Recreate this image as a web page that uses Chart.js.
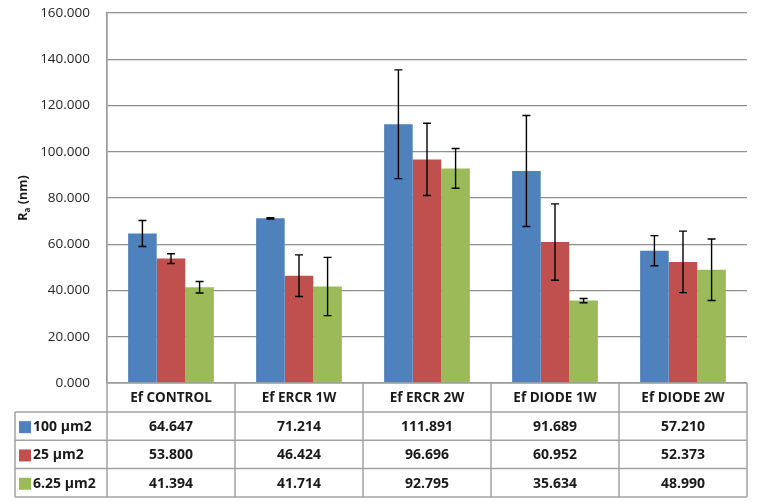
<!DOCTYPE html>
<html>
<head>
<meta charset="utf-8">
<script src="https://cdn.jsdelivr.net/npm/chart.js@4/dist/chart.umd.min.js"></script>
<style>
html,body{margin:0;padding:0;background:#fff;}
#wrap{width:760px;height:502px;position:relative;}
</style>
</head>
<body>
<div id="wrap"><canvas id="c" width="760" height="502"></canvas></div>
<script>
const categories = ["Ef CONTROL", "Ef ERCR 1W", "Ef ERCR 2W", "Ef DIODE 1W", "Ef DIODE 2W"];
const seriesNames = ["100 \u00b5m2", "25 \u00b5m2", "6.25 \u00b5m2"];
const values100 = [64.647, 71.214, 111.891, 91.689, 57.210];
const values25 = [53.800, 46.424, 96.696, 60.952, 52.373];
const values625 = [41.394, 41.714, 92.795, 35.634, 48.990];
const errors100 = [5.6, 0.3, 23.5, 24.0, 6.5];
const errors25 = [2.1, 9.0, 15.6, 16.5, 13.3];
const errors625 = [2.5, 12.6, 8.6, 0.9, 13.3];
const yTickMin = 0, yTickMax = 160, yTickStep = 20;

const colors = ["#4F81BD", "#C0504D", "#9BBB59"];
const allValues = [values100, values25, values625];
const allErrors = [errors100, errors25, errors625];

const FONT = '"Open Sans", "Liberation Sans", sans-serif';

const errorBarPlugin = {
  id: 'errorBars',
  afterDatasetsDraw(chart) {
    const ctx = chart.ctx;
    const y = chart.scales.y;
    ctx.save();
    ctx.strokeStyle = '#000';
    ctx.lineWidth = 1.4;
    chart.data.datasets.forEach((ds, di) => {
      const meta = chart.getDatasetMeta(di);
      meta.data.forEach((bar, i) => {
        const v = ds.data[i], e = allErrors[di][i];
        const yt = y.getPixelForValue(v + e), yb = y.getPixelForValue(v - e);
        const x = bar.x, cap = 4;
        ctx.beginPath();
        ctx.moveTo(x, yt); ctx.lineTo(x, yb);
        ctx.moveTo(x - cap, yt); ctx.lineTo(x + cap, yt);
        ctx.moveTo(x - cap, yb); ctx.lineTo(x + cap, yb);
        ctx.stroke();
      });
    });
    ctx.restore();
  }
};

const tablePlugin = {
  id: 'dataTable',
  afterDraw(chart) {
    const ctx = chart.ctx;
    const xs = chart.scales.x;
    const area = chart.chartArea;
    const n = categories.length;
    const colW = (area.right - area.left) / n;
    const top = area.bottom;
    const headerH = 29;
    const rowH = 28.3;
    const tableLeft = 15;
    const bottom = top + headerH + rowH * 3;
    ctx.save();
    ctx.strokeStyle = '#a3a3a3';
    ctx.lineWidth = 1.5;
    ctx.beginPath();
    for (let i = 0; i <= n; i++) {
      const x = area.left + i * colW;
      ctx.moveTo(x, i === 0 ? area.top : top);
      ctx.lineTo(x, bottom);
    }
    ctx.moveTo(tableLeft, top + headerH);
    ctx.lineTo(tableLeft, bottom);
    ctx.moveTo(area.left, top); ctx.lineTo(area.right, top);
    for (let r = 0; r <= 3; r++) {
      const yy = top + headerH + r * rowH;
      ctx.moveTo(tableLeft, yy); ctx.lineTo(area.right, yy);
    }
    ctx.stroke();

    ctx.fillStyle = '#1a1a1a';
    ctx.textAlign = 'center';
    ctx.textBaseline = 'middle';
    ctx.font = 'bold 13.5px ' + FONT;
    categories.forEach((c, i) => {
      ctx.fillText(c, xs.getPixelForTick(i), top + headerH / 2 + 1);
    });
    for (let r = 0; r < 3; r++) {
      const yy = top + headerH + r * rowH + rowH / 2 + 1;
      ctx.font = 'bold 14px ' + FONT;
      allValues[r].forEach((v, i) => {
        ctx.fillText(v.toFixed(3), xs.getPixelForTick(i), yy);
      });
      ctx.fillStyle = colors[r];
      ctx.fillRect(19, yy - 6, 12, 12);
      ctx.fillStyle = '#1a1a1a';
      ctx.textAlign = 'left';
      ctx.fillText(seriesNames[r], 33, yy);
      ctx.textAlign = 'center';
    }

    ctx.translate(22, (area.top + area.bottom) / 2);
    ctx.rotate(-Math.PI / 2);
    ctx.textAlign = 'left';
    ctx.textBaseline = 'alphabetic';
    ctx.font = 'bold 12.5px ' + FONT;
    const wR = ctx.measureText('R').width;
    ctx.font = 'bold 8px ' + FONT;
    const wa = ctx.measureText('a').width;
    ctx.font = 'bold 12.5px ' + FONT;
    const wRest = ctx.measureText(' (nm)').width;
    const total = wR + wa + wRest;
    let x0 = -total / 2;
    ctx.fillText('R', x0, 5);
    ctx.font = 'bold 8px ' + FONT;
    ctx.fillText('a', x0 + wR, 7.5);
    ctx.font = 'bold 12.5px ' + FONT;
    ctx.fillText(' (nm)', x0 + wR + wa, 5);
    ctx.restore();
  }
};

new Chart(document.getElementById('c'), {
  type: 'bar',
  data: {
    labels: categories,
    datasets: seriesNames.map((name, i) => ({
      label: name,
      data: allValues[i],
      backgroundColor: colors[i],
      borderWidth: 0,
      categoryPercentage: 0.67,
      barPercentage: 1.0
    }))
  },
  options: {
    responsive: false,
    animation: false,
    layout: { padding: { left: 0, right: 13, top: 13, bottom: 0 } },
    plugins: {
      legend: { display: false },
      tooltip: { enabled: false }
    },
    scales: {
      x: {
        grid: { display: false, drawTicks: false },
        border: { display: false },
        ticks: { display: false },
        afterFit(scale) { scale.height = 119; }
      },
      y: {
        min: yTickMin,
        max: yTickMax,
        ticks: {
          stepSize: yTickStep,
          padding: 0,
          color: '#262626',
          font: { family: FONT, size: 13.5 },
          callback: v => Number(v).toFixed(3)
        },
        grid: { color: '#8f8f8f', lineWidth: 1.2, drawTicks: true, tickLength: 17, tickColor: 'rgba(0,0,0,0)' },
        border: { display: true, color: '#8f8f8f', width: 1.2 },
        afterFit(scale) { scale.width = 107; }
      }
    }
  },
  plugins: [errorBarPlugin, tablePlugin]
});
</script>
</body>
</html>
